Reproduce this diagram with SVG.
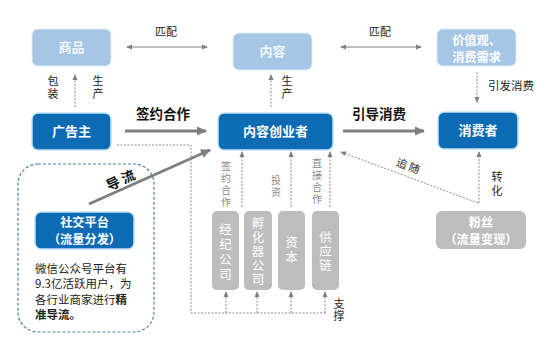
<svg xmlns="http://www.w3.org/2000/svg" width="554" height="339" viewBox="0 0 554 339">
<defs>
<style>
text{font-family:"Noto Sans CJK SC","Noto Sans",sans-serif}
.v{writing-mode:vertical-rl;text-anchor:middle}
.lb{fill:#a6c6e6;stroke:#d9ecf8;stroke-width:1}
.db{fill:#0c6bb3;stroke:#bfe3f5;stroke-width:1.5}
.gb{fill:#bdbdbd}
.wt{fill:#fff;font-weight:bold;font-size:13px;text-anchor:middle}
.wt2{fill:#fff;font-weight:bold;font-size:12.2px;text-anchor:middle}
.wtl{fill:#f2f6fa;font-weight:bold;font-size:13px;text-anchor:middle}
.gt{fill:#fff;font-size:12.5px}
.kt{fill:#222;font-size:11px;text-anchor:middle}
.bt{fill:#111;font-size:13.5px;font-weight:bold;text-anchor:middle}
.st{fill:#8a8a8a;font-size:10px}
.dl{fill:none;stroke:#8c8c8c;stroke-width:1;stroke-dasharray:2,1.5}
.sl{fill:none;stroke:#7f7f7f;stroke-width:1}
.th{fill:none;stroke:#7f7f7f;stroke-width:3}
</style>
<marker id="a" markerWidth="6" markerHeight="6" refX="5" refY="3" orient="auto" markerUnits="userSpaceOnUse"><path d="M0,0.5 L6,3 L0,5.5 z" fill="#7f7f7f"/></marker>
<marker id="as" markerWidth="6" markerHeight="6" refX="5" refY="3" orient="auto-start-reverse" markerUnits="userSpaceOnUse"><path d="M0,0.5 L6,3 L0,5.5 z" fill="#7f7f7f"/></marker>
<marker id="ab" markerWidth="10" markerHeight="10" refX="9" refY="5" orient="auto" markerUnits="userSpaceOnUse"><path d="M0,0.5 L10,5 L0,9.5 z" fill="#7f7f7f"/></marker>
</defs>

<g id="connectors">
<line class="sl" x1="127" y1="47" x2="207" y2="47" marker-start="url(#as)" marker-end="url(#as)"/>
<text class="kt" x="166" y="36">匹配</text>
<line class="sl" x1="341" y1="47" x2="421" y2="47" marker-start="url(#as)" marker-end="url(#as)"/>
<text class="kt" x="380" y="36">匹配</text>
<line class="dl" x1="75" y1="107" x2="75" y2="75" marker-end="url(#a)"/>
<text class="kt v" x="53" y="88" letter-spacing="2">包装</text>
<text class="kt v" x="98" y="88" letter-spacing="2">生产</text>
<line class="dl" x1="271" y1="107" x2="271" y2="75" marker-end="url(#a)"/>
<text class="kt v" x="287" y="88" letter-spacing="2">生产</text>
<line class="dl" x1="477" y1="72" x2="477" y2="102" marker-end="url(#a)"/>
<text x="488" y="90" font-size="11.5" fill="#222">引发消费</text>
<line class="th" x1="125" y1="131" x2="206" y2="131" marker-end="url(#ab)"/>
<text class="bt" x="163" y="119">签约合作</text>
<line class="th" x1="343" y1="131" x2="424" y2="131" marker-end="url(#ab)"/>
<text class="bt" x="379" y="119">引导消费</text>
<line class="th" x1="89" y1="204" x2="210" y2="150" marker-end="url(#ab)"/>
<text class="bt" x="121" y="185" transform="rotate(-24 121 181)">导  流</text>
<polyline class="dl" points="117,145 191,145 191,313 326,313"/>
<line class="dl" x1="226" y1="313" x2="226" y2="292" marker-end="url(#a)"/>
<line class="dl" x1="257" y1="313" x2="257" y2="292" marker-end="url(#a)"/>
<line class="dl" x1="291" y1="313" x2="291" y2="292" marker-end="url(#a)"/>
<line class="dl" x1="325" y1="313" x2="325" y2="292" marker-end="url(#a)"/>
<text class="kt v" x="339" y="310" letter-spacing="1">支撑</text>
<line class="dl" x1="242" y1="207" x2="242" y2="152" marker-end="url(#a)"/>
<line class="dl" x1="291" y1="207" x2="291" y2="152" marker-end="url(#a)"/>
<line class="dl" x1="330" y1="207" x2="330" y2="152" marker-end="url(#a)"/>
<text class="st v" x="226" y="185" letter-spacing="2">签约合作</text>
<text class="st v" x="276" y="187" letter-spacing="2">投资</text>
<text class="st v" x="317" y="182" letter-spacing="2">直接合作</text>
<line class="dl" x1="478" y1="203" x2="341" y2="152" marker-end="url(#a)"/>
<text class="kt" x="408" y="170" transform="rotate(20 408 166)">追  随</text>
<line class="dl" x1="479" y1="203" x2="479" y2="152" marker-end="url(#a)"/>
<text class="kt v" x="497" y="185" letter-spacing="3">转化</text>
</g>

<g id="n-shangpin"><rect class="lb" x="32" y="29" width="79" height="37" rx="6"/><text class="wtl" x="71.5" y="52">商品</text></g>
<g id="n-neirong"><rect class="lb" x="233" y="33" width="79" height="37" rx="6"/><text class="wtl" x="272.5" y="56">内容</text></g>
<g id="n-jiazhi"><rect class="lb" x="437" y="29" width="79" height="37" rx="6"/><text class="wt2" fill="#f2f6fa" x="476.5" y="45">价值观、<tspan x="476.5" dy="16.6">消费需求</tspan></text></g>
<g id="n-guanggao"><rect class="db" x="32" y="113" width="79" height="37" rx="6"/><text class="wt" x="71.5" y="136">广告主</text></g>
<g id="n-chuangye"><rect class="db" x="218" y="113" width="115" height="37" rx="6"/><text class="wt" x="275.5" y="136">内容创业者</text></g>
<g id="n-xiaofei"><rect class="db" x="438" y="112" width="80" height="37" rx="6"/><text class="wt" x="478" y="135">消费者</text></g>
<g id="n-shejiao">
<rect x="18" y="164" width="136" height="168" rx="20" fill="none" stroke="#4a7fa6" stroke-width="1.2" stroke-dasharray="3,2"/>
<rect class="db" x="35" y="212" width="99" height="37" rx="6"/>
<text class="wt2" x="84.5" y="227">社交平台<tspan x="84.5" dy="16.6">（流量分发）</tspan></text>
<text x="35" y="273" font-size="11.5" fill="#222">微信公众号平台有<tspan x="35" dy="15.3">9.3亿活跃用户，为</tspan><tspan x="35" dy="15.3">各行业商家进行</tspan><tspan font-weight="bold">精</tspan><tspan x="35" dy="15.3" font-weight="bold">准导流。</tspan></text>
</g>
<g id="n-jingji"><rect class="gb" x="212" y="211" width="27" height="79" rx="5"/><text class="gt v" x="225.5" y="253" letter-spacing="2.5">经纪公司</text></g>
<g id="n-fuhua"><rect class="gb" x="244" y="211" width="28" height="79" rx="5"/><text class="gt v" x="258" y="252" letter-spacing="1.5">孵化器公司</text></g>
<g id="n-ziben"><rect class="gb" x="278" y="211" width="27" height="79" rx="5"/><text class="gt v" x="291.5" y="251" letter-spacing="2.5">资本</text></g>
<g id="n-gongying"><rect class="gb" x="312" y="211" width="27" height="79" rx="5"/><text class="gt v" x="325.5" y="252" letter-spacing="1.5">供应链</text></g>
<g id="n-fensi"><rect class="gb" x="436" y="211" width="90" height="38" rx="6"/><text class="wt2" x="481" y="227">粉丝<tspan x="481" dy="16.6">（流量变现）</tspan></text></g>
</svg>
